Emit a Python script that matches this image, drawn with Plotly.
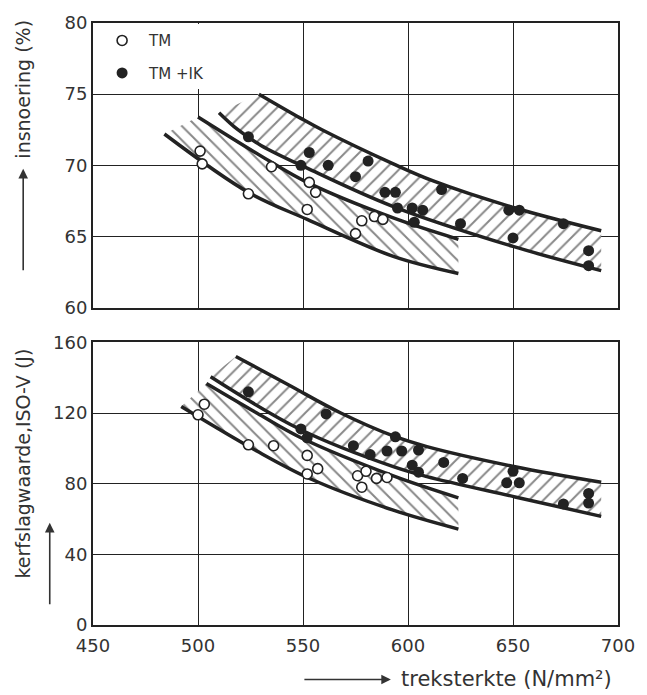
import plotly.graph_objects as go
from plotly.subplots import make_subplots

# ---------------- data ----------------
# top panel: insnoering (%)
ins_tm_x = [501, 502, 524, 535, 553, 556, 552, 578, 584, 588, 575]
ins_tm_y = [71.0, 70.1, 68.0, 69.9, 68.8, 68.1, 66.9, 66.1, 66.4, 66.2, 65.2]
ins_ik_x = [524, 553, 549, 562, 581, 575, 589, 594, 595, 602, 607, 603, 616, 625, 648, 653, 650, 674, 686, 686]
ins_ik_y = [72.0, 70.9, 70.0, 70.0, 70.3, 69.2, 68.1, 68.1, 67.0, 67.0, 66.85, 66.0, 68.3, 65.9, 66.85, 66.85, 64.9, 65.9, 64.0, 62.95]

# scatter bands (top panel)
ins_ik_upper_x = [529, 549, 559, 593, 612, 651, 692]
ins_ik_upper_y = [75.0, 73.3, 72.5, 70.1, 68.9, 67.0, 65.4]
ins_ik_lower_x = [510, 519, 530, 552, 593, 650, 692]
ins_ik_lower_y = [73.7, 72.5, 71.4, 69.8, 67.1, 64.3, 62.6]
ins_tm_upper_x = [500, 534, 552, 593, 624]
ins_tm_upper_y = [73.4, 70.3, 68.8, 66.3, 64.8]
ins_tm_lower_x = [484, 524, 552, 593, 624]
ins_tm_lower_y = [72.2, 68.1, 66.2, 63.6, 62.4]

# bottom panel: kerfslagwaarde ISO-V (J)
kerf_tm_x = [503, 500, 524, 536, 552, 557, 552, 576, 580, 585, 590, 578]
kerf_tm_y = [125, 119, 102, 101.5, 96, 88.5, 85.5, 84.5, 87, 83, 83.5, 78]
kerf_ik_x = [524, 561, 549, 552, 574, 582, 590, 594, 597, 605, 602, 605, 617, 626, 650, 647, 653, 674, 686, 686]
kerf_ik_y = [132, 119.5, 111, 106, 101.5, 96.5, 98.5, 106.5, 98.5, 99, 90.5, 86.5, 92, 83, 87, 80.5, 80.5, 68.5, 74.5, 69]

kerf_ik_upper_x = [518, 543, 568, 593, 609, 651, 692]
kerf_ik_upper_y = [152, 136, 120, 107, 101, 89.6, 80.8]
kerf_ik_lower_x = [506, 549, 593, 609, 651, 692]
kerf_ik_lower_y = [140.5, 110.5, 89.6, 84.0, 72.5, 61.5]
kerf_tm_upper_x = [504, 528, 549, 593, 624]
kerf_tm_upper_y = [136.7, 120, 106, 84.4, 72]
kerf_tm_lower_x = [492, 528, 554, 593, 624]
kerf_tm_lower_y = [123.7, 98.5, 82.5, 65, 54.3]

x_ticks = [450, 500, 550, 600, 650, 700]
ins_ticks = [60, 65, 70, 75, 80]
kerf_ticks = [0, 40, 80, 120, 160]

# ---------------- figure ----------------
INK = "#222222"
TXT = "#333333"
FONT = "DejaVu Sans"

fig = make_subplots(rows=2, cols=1, shared_xaxes=True,
                    vertical_spacing=35 / 607, row_heights=[287, 285])


def band(row, ux, uy, lx, ly, shape):
    fig.add_trace(go.Scatter(
        x=ux + lx[::-1], y=uy + ly[::-1], mode="lines", fill="toself",
        fillcolor="white", line=dict(width=0, color="rgba(0,0,0,0)"),
        fillpattern=dict(shape=shape, size=10, solidity=0.2, fgcolor="#111111", bgcolor="white"),
        hoverinfo="skip", showlegend=False), row=row, col=1)
    for xs, ys in ((ux, uy), (lx, ly)):
        fig.add_trace(go.Scatter(
            x=xs, y=ys, mode="lines", line=dict(color=INK, width=3.5, shape="spline"),
            hoverinfo="skip", showlegend=False), row=row, col=1)


band(1, ins_tm_upper_x, ins_tm_upper_y, ins_tm_lower_x, ins_tm_lower_y, "\\")
band(1, ins_ik_upper_x, ins_ik_upper_y, ins_ik_lower_x, ins_ik_lower_y, "/")
band(2, kerf_tm_upper_x, kerf_tm_upper_y, kerf_tm_lower_x, kerf_tm_lower_y, "\\")
band(2, kerf_ik_upper_x, kerf_ik_upper_y, kerf_ik_lower_x, kerf_ik_lower_y, "/")

open_marker = dict(symbol="circle", size=10, color="white", line=dict(color=INK, width=1.6))
full_marker = dict(symbol="circle", size=11, color=INK, line=dict(color=INK, width=0))

fig.add_trace(go.Scatter(x=ins_tm_x, y=ins_tm_y, mode="markers", marker=open_marker,
                         name="TM", legendgroup="a"), row=1, col=1)
fig.add_trace(go.Scatter(x=ins_ik_x, y=ins_ik_y, mode="markers", marker=full_marker,
                         name="TM +IK", legendgroup="b"), row=1, col=1)
fig.add_trace(go.Scatter(x=kerf_tm_x, y=kerf_tm_y, mode="markers", marker=open_marker,
                         name="TM", showlegend=False), row=2, col=1)
fig.add_trace(go.Scatter(x=kerf_ik_x, y=kerf_ik_y, mode="markers", marker=full_marker,
                         name="TM +IK", showlegend=False), row=2, col=1)

axis_common = dict(showline=True, mirror=True, linecolor=INK, linewidth=2,
                   showgrid=True, gridcolor=INK, gridwidth=1.3, zeroline=False,
                   ticks="", tickfont=dict(family=FONT, size=18, color=TXT))

fig.update_xaxes(range=[450, 700], tickvals=x_ticks, ticklabelstandoff=3, **axis_common)
fig.update_xaxes(showticklabels=False, row=1, col=1)
fig.update_yaxes(range=[60, 80], tickvals=ins_ticks, row=1, col=1, **axis_common)
fig.update_yaxes(range=[0, 160], tickvals=kerf_ticks, row=2, col=1, **axis_common)
fig.update_layout(
    yaxis=dict(domain=[320 / 607, 1]),
    yaxis2=dict(domain=[0, 285 / 607]),
)

ann_font = dict(family=FONT, size=19, color=TXT)
annotations = [
    dict(text="insnoering (%)", xref="paper", yref="paper", x=(22 - 93) / 534, y=(625 - 85) / 607,
         textangle=-90, showarrow=False, font=ann_font, xanchor="center", yanchor="middle"),
    dict(text="kerfslagwaarde,ISO-V (J)", xref="paper", yref="paper", x=(22 - 93) / 534,
         y=(625 - 462) / 607, textangle=-90, showarrow=False, font=ann_font,
         xanchor="center", yanchor="middle"),
    dict(text="treksterkte (N/mm²)", xref="paper", yref="paper", x=(404 - 93) / 534,
         y=(625 - 679) / 607, showarrow=False, font=dict(family=FONT, size=21, color=TXT),
         xanchor="left", yanchor="middle"),
    # arrows
    dict(text="", xref="paper", yref="paper", x=(22 - 93) / 534, y=(625 - 165) / 607,
         ax=0, ay=103, showarrow=True, arrowhead=2, arrowsize=1.2, arrowwidth=1.6, arrowcolor=TXT),
    dict(text="", xref="paper", yref="paper", x=(49 - 93) / 534, y=(625 - 522) / 607,
         ax=0, ay=83, showarrow=True, arrowhead=2, arrowsize=1.2, arrowwidth=1.6, arrowcolor=TXT),
    dict(text="", xref="paper", yref="paper", x=(396 - 93) / 534, y=(625 - 680) / 607,
         ax=-88, ay=0, showarrow=True, arrowhead=2, arrowsize=1.2, arrowwidth=1.6, arrowcolor=TXT),
]

fig.update_layout(
    width=647, height=695,
    margin=dict(l=93, r=20, t=18, b=70),
    paper_bgcolor="white", plot_bgcolor="white",
    annotations=annotations,
    legend=dict(x=0.004, y=0.998, xanchor="left", yanchor="top", bgcolor="white",
                borderwidth=0, traceorder="grouped", tracegroupgap=10, itemwidth=44,
                font=dict(family=FONT, size=15, color=TXT)),
    showlegend=True,
)

fig.write_html("out.html", config={"displayModeBar": False})

# remove the browser's default page margin so the figure sits at the window's corner
with open("out.html", encoding="utf-8") as fh:
    html = fh.read()
html = html.replace("<head>", "<head><style>html,body{margin:0;padding:0;}</style>", 1)
with open("out.html", "w", encoding="utf-8") as fh:
    fh.write(html)
